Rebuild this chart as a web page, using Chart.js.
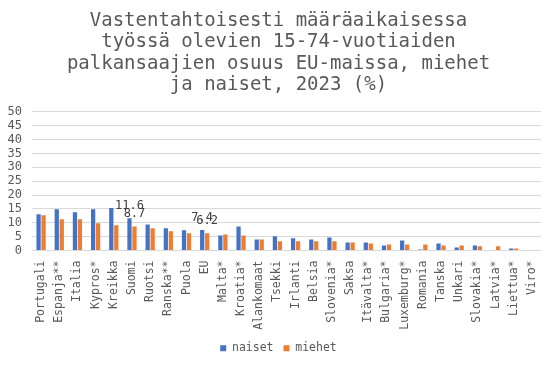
<!DOCTYPE html>
<html>
<head>
<meta charset="utf-8">
<script src="https://cdn.jsdelivr.net/npm/chart.js@4.4.1/dist/chart.umd.min.js"></script>
<style>
	html, body { margin: 0; padding: 0; background: #fff; }
	#wrap { width: 557px; height: 368px; }
</style>
</head>
<body>
<div id="wrap"><canvas id="chart"></canvas></div>
<script>
'use strict';

// Chart data
var titleLines = [
	'Vastentahtoisesti määräaikaisessa',
	'työssä olevien 15-74-vuotiaiden',
	'palkansaajien osuus EU-maissa, miehet',
	'ja naiset, 2023 (%)'
];

var countries = [
	'Portugali', 'Espanja**', 'Italia', 'Kypros*', 'Kreikka', 'Suomi', 'Ruotsi',
	'Ranska**', 'Puola', 'EU', 'Malta*', 'Kroatia*', 'Alankomaat', 'Tsekki',
	'Irlanti', 'Belsia', 'Slovenia*', 'Saksa', 'Itävalta*', 'Bulgaria*',
	'Luxemburg*', 'Romania', 'Tanska', 'Unkari', 'Slovakia*', 'Latvia*',
	'Liettua*', 'Viro*'
];

var naiset = [
	13.1, 14.9, 13.8, 14.9, 15.3, 11.6, 9.4,
	8.0, 7.3, 7.4, 5.4, 8.7, 4.0, 5.1,
	4.4, 4.0, 4.7, 2.9, 2.9, 1.8,
	3.6, 0.4, 2.5, 1.1, 1.8, null,
	0.7, null
];

var miehet = [
	12.7, 11.3, 11.3, 9.8, 9.1, 8.7, 8.0,
	6.9, 6.2, 6.2, 5.8, 5.4, 4.0, 3.3,
	3.3, 3.3, 3.3, 2.9, 2.5, 2.2,
	2.2, 2.2, 1.8, 1.8, 1.5, 1.5,
	0.7, null
];

var yTicks = [0, 5, 10, 15, 20, 25, 30, 35, 40, 45, 50];

// Categories that get value labels on their bars
var labelledCountries = ['Suomi', 'EU'];

var textColor = '#595959',
	gridColor = '#d9d9d9',
	monoFont = 'DejaVu Sans Mono';

// Draw value labels above the bars of the chosen categories
var valueLabels = {
	id: 'valueLabels',
	afterDatasetsDraw: function (chart) {
		var ctx = chart.ctx;
		ctx.save();
		ctx.font = '12px "' + monoFont + '"';
		ctx.fillStyle = '#404040';
		ctx.textAlign = 'center';
		ctx.textBaseline = 'alphabetic';
		chart.data.datasets.forEach(function (ds, di) {
			var meta = chart.getDatasetMeta(di);
			labelledCountries.forEach(function (name) {
				var i = countries.indexOf(name),
					bar = meta.data[i];
				if (bar && ds.data[i] !== null) {
					ctx.fillText(ds.data[i].toFixed(1), bar.x, bar.y - 9);
				}
			});
		});
		ctx.restore();
	}
};

new Chart(document.getElementById('chart'), {
	type: 'bar',
	data: {
		labels: countries,
		datasets: [{
			label: 'naiset',
			data: naiset,
			backgroundColor: '#4472c4'
		}, {
			label: 'miehet',
			data: miehet,
			backgroundColor: '#ed7d31'
		}]
	},
	options: {
		responsive: true,
		maintainAspectRatio: false,
		animation: false,
		datasets: {
			bar: {
				categoryPercentage: 0.55,
				barPercentage: 0.85
			}
		},
		layout: {
			padding: { left: 0, right: 0, top: 8, bottom: 4 }
		},
		plugins: {
			title: {
				display: true,
				text: titleLines,
				color: textColor,
				font: { family: monoFont, size: 19, weight: 'normal', lineHeight: 1.13 },
				padding: { top: 2, bottom: 16 }
			},
			legend: {
				position: 'bottom',
				labels: {
					color: textColor,
					font: { family: monoFont, size: 11.5 },
					boxWidth: 6,
					boxHeight: 6,
					padding: 10
				}
			},
			tooltip: { enabled: false }
		},
		scales: {
			x: {
				grid: { display: false, drawTicks: false },
				border: { display: false },
				ticks: {
					color: textColor,
					font: { family: monoFont, size: 11.5 },
					minRotation: 90,
					maxRotation: 90,
					autoSkip: false,
					padding: 10
				},
				afterFit: function (scale) {
					scale.height = 82;
				}
			},
			y: {
				min: 0,
				max: 50,
				grid: { color: gridColor, lineWidth: 1, drawTicks: false },
				border: { display: false },
				ticks: {
					color: textColor,
					font: { family: monoFont, size: 12 },
					padding: 10,
					autoSkip: false
				},
				afterBuildTicks: function (scale) {
					scale.ticks = yTicks.map(function (v) { return { value: v }; });
				},
				afterFit: function (scale) {
					scale.width = 32;
				}
			},
			// empty right axis: only reserves the right margin so the title stays centred
			yRight: {
				position: 'right',
				min: 0,
				max: 50,
				grid: { display: false, drawTicks: false },
				border: { display: false },
				ticks: { display: false },
				afterFit: function (scale) {
					scale.width = 16;
				}
			}
		}
	},
	plugins: [valueLabels]
});
</script>
</body>
</html>
